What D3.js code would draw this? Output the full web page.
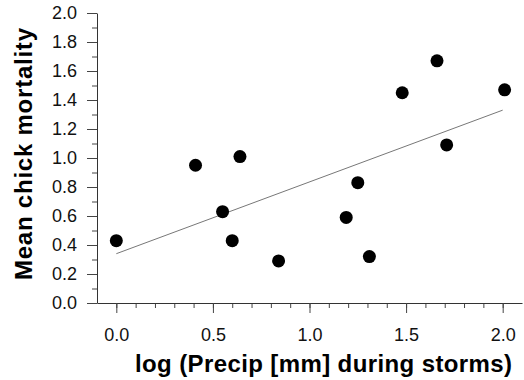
<!DOCTYPE html>
<html>
<head>
<meta charset="utf-8">
<script src="https://cdn.jsdelivr.net/npm/d3@7"></script>
<style>
    body { margin: 0; background: #fff; }
    text { font-family: "Liberation Sans", Arial, sans-serif; }
</style>
</head>
<body>
<script>
// data
const precipLog = [0.0, 0.41, 0.55, 0.60, 0.64, 0.84, 1.19, 1.25, 1.31, 1.48, 1.66, 1.71, 2.01];
const mortality = [0.43, 0.95, 0.63, 0.43, 1.01, 0.29, 0.59, 0.83, 0.32, 1.45, 1.67, 1.09, 1.47];

// fitted line end points
const fitX = [0.0, 2.0];
const fitY = [0.34, 1.33];

const xTicks = [0.0, 0.5, 1.0, 1.5, 2.0];
const yTicks = [0.0, 0.2, 0.4, 0.6, 0.8, 1.0, 1.2, 1.4, 1.6, 1.8, 2.0];
const xMinor = d3.range(0, 21).map(i => i / 10);
const yMinor = d3.range(0, 21).map(i => i / 10);

const width = 524;
const height = 380;

let svg = d3
    .select("body")
    .append("svg")
    .attr("width", width)
    .attr("height", height);

let xScale = d3.scaleLinear()
    .domain([-0.1, 2.1])
    .range([97, 522]);

let yScale = d3.scaleLinear()
    .domain([0, 2])
    .range([303, 13]);

// minor ticks first, then the main axes on top
svg.append("g")
    .attr("transform", `translate(0, ${yScale(0)})`)
    .call(d3.axisBottom(xScale).tickValues(xMinor).tickSize(5).tickSizeOuter(0).tickFormat(""))
    .call(g => g.select(".domain").remove());

svg.append("g")
    .attr("transform", `translate(${xScale(-0.1)}, 0)`)
    .call(d3.axisLeft(yScale).tickValues(yMinor).tickSize(5).tickSizeOuter(0).tickFormat(""))
    .call(g => g.select(".domain").remove());

let bottom = svg.append("g")
    .attr("transform", `translate(0, ${yScale(0)})`)
    .call(d3.axisBottom(xScale)
        .tickValues(xTicks)
        .tickSize(10)
        .tickSizeOuter(0)
        .tickPadding(15)
        .tickFormat(d3.format(".1f")));

let left = svg.append("g")
    .attr("transform", `translate(${xScale(-0.1)}, 0)`)
    .call(d3.axisLeft(yScale)
        .tickValues(yTicks)
        .tickSize(10)
        .tickSizeOuter(0)
        .tickPadding(10)
        .tickFormat(d3.format(".1f")));

[bottom, left].forEach(g => {
    g.selectAll("text")
        .attr("font-family", "Liberation Sans, Arial, sans-serif")
        .attr("font-size", 18)
        .attr("fill", "#111");
    g.selectAll("line, path").attr("stroke", "#333");
});

svg.selectAll("g line").attr("stroke", "#444");

// regression line
svg.append("line")
    .attr("x1", xScale(fitX[0]))
    .attr("y1", yScale(fitY[0]))
    .attr("x2", xScale(fitX[1]))
    .attr("y2", yScale(fitY[1]))
    .attr("stroke", "#777")
    .attr("stroke-width", 1);

svg.selectAll("circle")
    .data(precipLog.map((d, i) => ({ x: d, y: mortality[i] })))
    .join("circle")
    .attr("cx", d => xScale(d.x))
    .attr("cy", d => yScale(d.y))
    .attr("r", 6.5)
    .attr("fill", "#000");

// axis titles
svg.append("text")
    .text("log (Precip [mm] during storms)")
    .attr("x", 135)
    .attr("y", 372)
    .attr("font-size", 24)
    .attr("font-weight", "bold")
    .attr("textLength", 377)
    .attr("lengthAdjust", "spacing");

svg.append("text")
    .text("Mean chick mortality")
    .attr("font-size", 24)
    .attr("font-weight", "bold")
    .attr("textLength", 252)
    .attr("lengthAdjust", "spacing")
    .attr("transform", "translate(32, 280) rotate(-90)");
</script>
</body>
</html>
